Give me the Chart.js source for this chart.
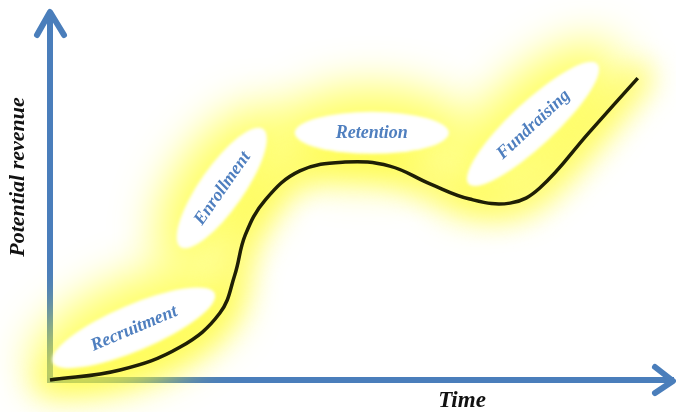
<!DOCTYPE html>
<html><head><meta charset="utf-8">
<style>html,body{margin:0;padding:0;background:#fff;}#wrap{width:676px;height:412px;position:relative;}</style>
<script src="https://cdn.jsdelivr.net/npm/chart.js@4/dist/chart.umd.min.js"></script>
</head><body><div id="wrap"><canvas id="c"></canvas></div>
<script>
// Curve: potential revenue over time (conceptual)
const timeValues    = [0, 11.3, 21.0, 27.4, 29.8, 31.5, 34.7, 40.3, 47.6, 54.8, 61.3, 67.7, 74.2, 79.0, 86.9, 94.8];
const revenueValues = [0, 2.7, 8.9, 18.1, 28.4, 39.2, 48.6, 56.5, 58.9, 57.8, 53.0, 48.9, 47.8, 51.9, 66.8, 81.6];
// Stage labels anchored in data space
const stageNames   = ['Recruitment', 'Enrollment', 'Retention', 'Fundraising'];
const stageTime    = [13.5, 27.7, 51.9, 77.9];
const stageRevenue = [14.1, 51.9, 66.8, 69.2];
const xAxisTitle = 'Time';
const yAxisTitle = 'Potential revenue';

const stageStyle = [
  {angle: -23, rx: 88, ry: 23},
  {angle: -55, rx: 72, ry: 22},
  {angle: 0,   rx: 77, ry: 21},
  {angle: -43, rx: 88, ry: 22}
];
const points = timeValues.map((t, i) => ({x: t, y: revenueValues[i]}));

const decor = {
  id: 'decor',
  beforeDatasetsDraw(chart) {
    const {ctx, chartArea: a, scales: {x, y}} = chart;
    const x0 = x.getPixelForValue(0), y0 = y.getPixelForValue(0);
    ctx.save();
    ctx.strokeStyle = '#4A7EBB';
    ctx.lineWidth = 6;
    ctx.lineCap = 'square';
    ctx.beginPath(); ctx.moveTo(x0, y0); ctx.lineTo(x0, a.top + 4); ctx.stroke();
    ctx.beginPath(); ctx.moveTo(x0, y0); ctx.lineTo(a.right + 1, y0); ctx.stroke();
    ctx.lineCap = 'round'; ctx.lineJoin = 'round';
    ctx.beginPath();
    ctx.moveTo(x0 - 13, a.top + 25); ctx.lineTo(x0, a.top + 2); ctx.lineTo(x0 + 14, a.top + 25);
    ctx.stroke();
    ctx.beginPath();
    ctx.moveTo(a.right - 15, y0 - 13); ctx.lineTo(a.right + 3, y0 + 1); ctx.lineTo(a.right - 15, y0 + 13);
    ctx.stroke();
    // glows around stage ellipses
    ctx.filter = 'blur(22px)';
    ctx.fillStyle = 'rgba(255,255,40,0.7)';
    stageNames.forEach((n, i) => {
      const s = stageStyle[i];
      const px = x.getPixelForValue(stageTime[i]), py = y.getPixelForValue(stageRevenue[i]);
      ctx.beginPath();
      ctx.ellipse(px, py, s.rx + 22, s.ry + 26, s.angle * Math.PI / 180, 0, Math.PI * 2);
      ctx.fill();
    });
    ctx.restore();
  },
  beforeDatasetDraw(chart, args) {
    if (args.index === 1) { chart.ctx.save(); chart.ctx.filter = 'blur(14px)'; }
  },
  afterDatasetDraw(chart, args) {
    if (args.index !== 1) return;
    const ctx = chart.ctx;
    ctx.restore();
    const {scales: {x, y}} = chart;
    ctx.save();
    stageNames.forEach((n, i) => {
      const s = stageStyle[i];
      const px = x.getPixelForValue(stageTime[i]), py = y.getPixelForValue(stageRevenue[i]);
      ctx.save();
      ctx.translate(px, py);
      ctx.rotate(s.angle * Math.PI / 180);
      ctx.filter = 'blur(1.5px)';
      ctx.fillStyle = '#ffffff';
      ctx.beginPath(); ctx.ellipse(0, 0, s.rx, s.ry, 0, 0, Math.PI * 2); ctx.fill();
      ctx.filter = 'none';
      ctx.fillStyle = '#4F7FBF';
      ctx.font = 'italic bold 18px "Liberation Serif"';
      ctx.textAlign = 'center'; ctx.textBaseline = 'middle';
      ctx.fillText(n, 0, 1);
      ctx.restore();
    });
    ctx.restore();
  },
  afterDraw(chart) {
    const ctx = chart.ctx;
    ctx.save();
    ctx.fillStyle = '#111';
    ctx.font = 'italic bold 22px "Liberation Serif"';
    ctx.textAlign = 'center'; ctx.textBaseline = 'middle';
    ctx.translate(18, 177); ctx.rotate(-Math.PI / 2);
    ctx.fillText(yAxisTitle, 0, 0);
    ctx.restore();
    ctx.save();
    ctx.fillStyle = '#111';
    ctx.font = 'italic bold 23px "Liberation Serif"';
    ctx.textAlign = 'center'; ctx.textBaseline = 'middle';
    ctx.fillText(xAxisTitle, 462, 401);
    ctx.restore();
  }
};

new Chart(document.getElementById('c'), {
  type: 'scatter',
  data: {
    datasets: [
      {data: points, showLine: true, borderColor: '#1f1f05', borderWidth: 3.5, pointRadius: 0,
       tension: 0.4, clip: false},
      {data: points, showLine: true, borderColor: 'rgba(255,250,50,0.6)', borderWidth: 34, pointRadius: 0,
       tension: 0.4, clip: false, borderCapStyle: 'round'}
    ]
  },
  options: {
    responsive: true, maintainAspectRatio: false, animation: false,
    layout: {padding: {left: 50, right: 6, top: 10, bottom: 32}},
    plugins: {legend: {display: false}, tooltip: {enabled: false}},
    scales: {
      x: {type: 'linear', min: 0, max: 100, display: false},
      y: {type: 'linear', min: 0, max: 100, display: false}
    }
  },
  plugins: [decor]
});
</script></body></html>
